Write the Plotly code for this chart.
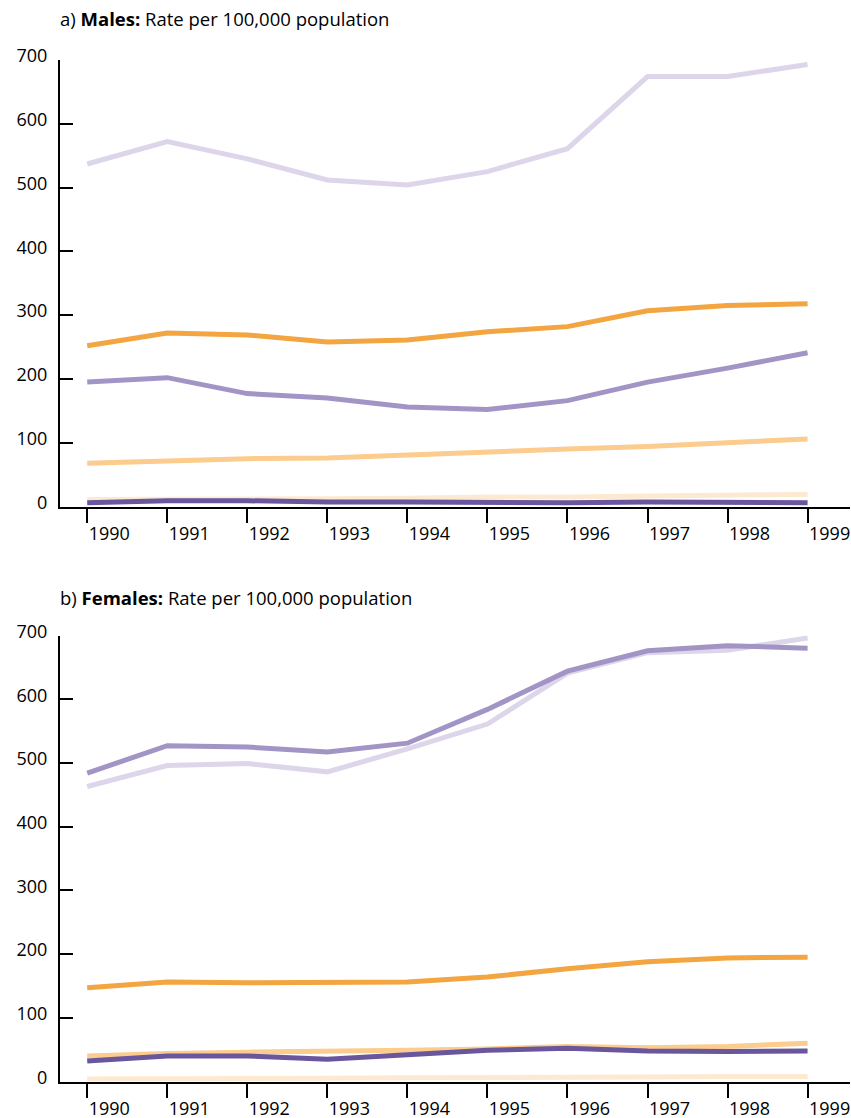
import plotly.graph_objects as go

years = [1990, 1991, 1992, 1993, 1994, 1995, 1996, 1997, 1998, 1999]
y_ticks = [0, 100, 200, 300, 400, 500, 600, 700]

# Males (rate per 100,000)
male_lavender = [537, 572, 545, 512, 504, 525, 561, 674, 674, 693]
male_peach = [11, 11, 11, 12, 13, 15, 15, 16, 17, 19]
male_light_orange = [68, 72, 75, 76, 81, 86, 90, 94, 100, 106]
male_orange = [252, 272, 269, 258, 261, 274, 282, 307, 315, 318]
male_mid_purple = [195, 202, 177, 170, 156, 152, 166, 195, 217, 241]
male_dark_purple = [6, 9, 9, 7, 7, 6, 6, 7, 6, 6]

# Females (rate per 100,000)
female_lavender = [463, 496, 499, 486, 522, 561, 641, 673, 677, 696]
female_peach = [4, 4, 5, 5, 6, 6, 7, 7, 8, 8]
female_light_orange = [40, 44, 46, 47, 49, 51, 55, 53, 55, 60]
female_orange = [147, 156, 155, 155, 156, 164, 177, 188, 194, 195]
female_mid_purple = [484, 527, 525, 517, 531, 584, 644, 676, 684, 680]
female_dark_purple = [32, 40, 40, 35, 42, 49, 52, 48, 47, 48]

colors = {
    "lavender": "#ddd5ea",
    "peach": "#fde9d1",
    "light_orange": "#fbcc8d",
    "orange": "#f2a540",
    "mid_purple": "#a394c6",
    "dark_purple": "#6a569d",
}

FONT = "Open Sans"
W, H = 851, 1118

fig = go.Figure()

panels = [
    ("x", "y", {
        "lavender": male_lavender, "peach": male_peach,
        "light_orange": male_light_orange, "orange": male_orange,
        "mid_purple": male_mid_purple, "dark_purple": male_dark_purple}),
    ("x2", "y2", {
        "lavender": female_lavender, "peach": female_peach,
        "light_orange": female_light_orange, "orange": female_orange,
        "mid_purple": female_mid_purple, "dark_purple": female_dark_purple}),
]

for xa, ya, series in panels:
    for key in ["lavender", "peach", "light_orange", "orange", "mid_purple", "dark_purple"]:
        fig.add_trace(go.Scatter(
            x=years, y=series[key], mode="lines", name=key,
            line=dict(color=colors[key], width=5),
            xaxis=xa, yaxis=ya, showlegend=False, hoverinfo="x+y",
        ))

x_dom = [60 / W, 850 / W]
dom_a = [1 - 506.5 / H, 1 - 60 / H]
dom_b = [1 - 1081.5 / H, 1 - 635.5 / H]

def xaxis_cfg(anchor):
    return dict(
        domain=x_dom, anchor=anchor, range=[1989.66, 1999.53],
        tickvals=years, ticktext=[str(y) for y in years],
        showline=True, linecolor="black", linewidth=2,
        ticks="outside", ticklen=14, tickwidth=2, tickcolor="black",
        showgrid=False, zeroline=False, automargin=False,
        tickfont=dict(family=FONT, size=18, color="black"),
        ticklabelshift=22, ticklabelstandoff=-4,
        fixedrange=True,
    )

def yaxis_cfg(anchor, dom):
    return dict(
        domain=dom, anchor=anchor, range=[0, 700],
        tickvals=y_ticks,
        showline=True, linecolor="black", linewidth=2,
        ticks="inside", ticklen=13, tickwidth=2, tickcolor="black",
        showgrid=False, zeroline=False, automargin=False,
        tickfont=dict(family=FONT, size=18, color="black"),
        ticklabelstandoff=7, ticklabelshift=-4,
        fixedrange=True,
    )

fig.update_layout(
    width=W, height=H,
    margin=dict(l=0, r=0, t=0, b=0, pad=0, autoexpand=False),
    paper_bgcolor="white", plot_bgcolor="white",
    font=dict(family=FONT, size=18, color="black"),
    xaxis=xaxis_cfg("y"),
    yaxis=yaxis_cfg("x", dom_a),
    xaxis2=xaxis_cfg("y2"),
    yaxis2=yaxis_cfg("x2", dom_b),
    annotations=[
        dict(text="a) <b>Males:</b> Rate per 100,000 population",
             xref="paper", yref="paper", x=58 / W, y=1 - 19 / H,
             xanchor="left", yanchor="middle", showarrow=False,
             font=dict(family=FONT, size=18.5, color="black")),
        dict(text="b) <b>Females:</b> Rate per 100,000 population",
             xref="paper", yref="paper", x=58 / W, y=1 - 597 / H,
             xanchor="left", yanchor="middle", showarrow=False,
             font=dict(family=FONT, size=18.5, color="black")),
    ],
)

fig.write_html(
    "out.html",
    config={"displayModeBar": False},
    post_script="document.body.style.margin='0';document.body.style.padding='0';document.body.style.overflow='hidden';",
)
